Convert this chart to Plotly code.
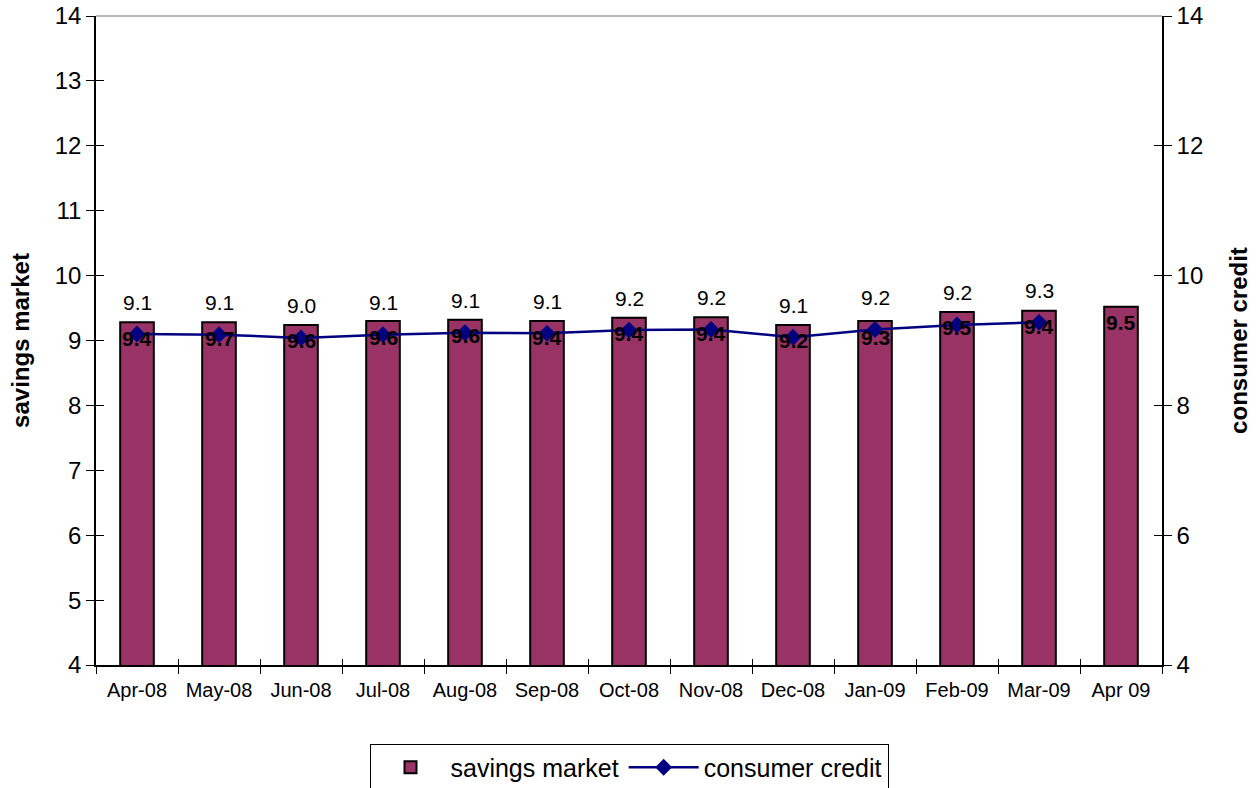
import plotly.graph_objects as go

months = ["Apr-08", "May-08", "Jun-08", "Jul-08", "Aug-08", "Sep-08", "Oct-08",
          "Nov-08", "Dec-08", "Jan-09", "Feb-09", "Mar-09", "Apr 09"]
savings_market = [9.28, 9.28, 9.24, 9.30, 9.32, 9.30, 9.35, 9.36, 9.24, 9.30, 9.44, 9.46, 9.52]
savings_labels = ["9.4", "9.7", "9.6", "9.6", "9.6", "9.4", "9.4", "9.4", "9.2", "9.3", "9.5", "9.4", "9.5"]
consumer_credit = [9.10, 9.09, 9.04, 9.09, 9.12, 9.11, 9.16, 9.17, 9.05, 9.17, 9.24, 9.28]
consumer_labels = ["9.1", "9.1", "9.0", "9.1", "9.1", "9.1", "9.2", "9.2", "9.1", "9.2", "9.2", "9.3"]

FONT = "Liberation Sans, Arial, sans-serif"

fig = go.Figure()
fig.add_trace(go.Bar(
    x=months, y=savings_market, name="savings market",
    marker=dict(color="#993366", line=dict(color="black", width=2)),
    width=0.41,
))
fig.add_trace(go.Scatter(
    x=months[:len(consumer_credit)], y=consumer_credit, name="consumer credit",
    yaxis="y2", mode="lines+markers",
    line=dict(color="#000080", width=2.5),
    marker=dict(symbol="diamond", size=13, color="#000080"),
))
# invisible helpers so that tick marks cross the axes (inside halves)
fig.add_trace(go.Scatter(x=months, y=savings_market, xaxis="x2", yaxis="y3",
                         mode="markers", marker=dict(opacity=0), showlegend=False,
                         hoverinfo="skip"))
fig.add_trace(go.Scatter(x=months, y=savings_market, xaxis="x2", yaxis="y4",
                         mode="markers", marker=dict(opacity=0), showlegend=False,
                         hoverinfo="skip"))

for m, v, t in zip(months, savings_market, savings_labels):
    fig.add_annotation(x=m, y=v, text="<b>" + t + "</b>", showarrow=False,
                       yshift=-16, font=dict(family=FONT, size=21, color="black"))

for m, v, t in zip(months, consumer_credit, consumer_labels):
    fig.add_annotation(x=m, y=v, yref="y2", text=t, showarrow=False,
                       yshift=32, font=dict(family=FONT, size=21, color="black"))

fig.add_shape(type="line", xref="paper", yref="paper", x0=0, x1=1, y0=1, y1=1,
              line=dict(color="#a0a0a0", width=1.5))

fig.update_layout(
    width=1256, height=788,
    margin=dict(l=96, r=94, t=16, b=123, autoexpand=False),
    paper_bgcolor="white", plot_bgcolor="white",
    font=dict(family=FONT, color="black"),
    showlegend=True,
    legend=dict(orientation="h", x=0.5, xanchor="center", y=-0.121, yanchor="top",
                bordercolor="black", borderwidth=1, font=dict(size=25),
                itemwidth=70, traceorder="normal"),
    xaxis=dict(type="category", range=[-0.5, 12.5], showline=True, linecolor="black",
               linewidth=1.5, ticks="outside", ticklen=7, tickcolor="black",
               tickson="boundaries", tickfont=dict(size=20), showgrid=False,
               automargin=False, ticklabelstandoff=6),
    xaxis2=dict(type="category", range=[-0.5, 12.5], overlaying="x", showline=False,
                ticks="inside", ticklen=6, tickcolor="black", tickson="boundaries",
                showticklabels=False, showgrid=False, automargin=False),
    yaxis=dict(range=[4, 14], dtick=1, showline=True, linecolor="black", linewidth=1.5,
               ticks="outside", ticklen=8, tickcolor="black", tickfont=dict(size=24),
               showgrid=False, zeroline=False, automargin=False,
               title=dict(text="<b>savings market</b>", font=dict(size=24), standoff=18)),
    yaxis2=dict(range=[4, 14], dtick=2, overlaying="y", side="right", showline=True,
                linecolor="black", linewidth=1.5, ticks="outside", ticklen=8,
                tickcolor="black", tickfont=dict(size=24), showgrid=False, zeroline=False,
                automargin=False,
                title=dict(text="<b>consumer credit</b>", font=dict(size=24), standoff=28)),
    yaxis3=dict(range=[4, 14], dtick=1, overlaying="y", side="left", showline=False,
                ticks="inside", ticklen=8, tickcolor="black", showticklabels=False,
                showgrid=False, zeroline=False, automargin=False),
    yaxis4=dict(range=[4, 14], dtick=2, overlaying="y", side="right", showline=False,
                ticks="inside", ticklen=8, tickcolor="black", showticklabels=False,
                showgrid=False, zeroline=False, automargin=False),
)

fig.write_html("out.html")
